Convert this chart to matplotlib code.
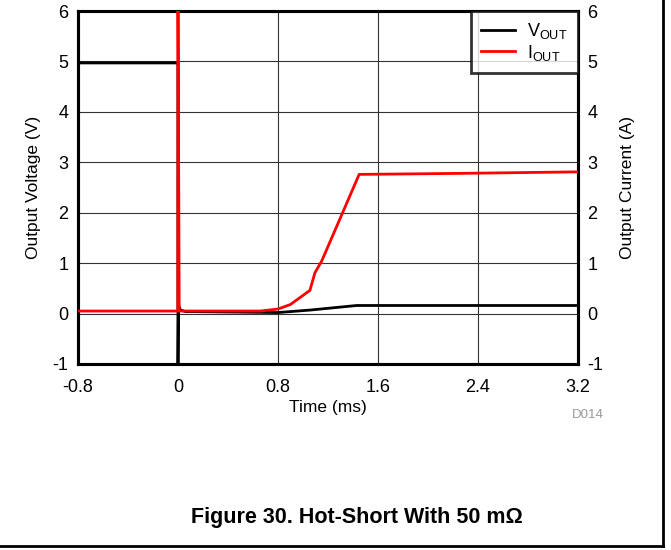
import numpy as np
import matplotlib.pyplot as plt
from matplotlib.lines import Line2D

plt.rcParams['font.family'] = ['Liberation Sans', 'DejaVu Sans']

# Scope capture, time in ms
t_vout = [-0.8, -0.001, 0.0, 0.0, 0.004, 0.02, 0.06, 0.8, 1.06, 1.43, 2.0, 3.2]
vout = [4.97, 4.97, 4.97, -1.2, 0.17, 0.07, 0.04, 0.02, 0.07, 0.16, 0.16, 0.16]

t_iout = [-0.8, -0.001, 0.0, 0.0, 0.01, 0.6, 0.66, 0.8, 0.9, 1.056, 1.096, 1.15, 1.45, 2.26, 3.2]
iout = [0.05, 0.05, 6.5, 6.5, 0.05, 0.05, 0.05, 0.09, 0.18, 0.46, 0.81, 1.04, 2.76, 2.78, 2.81]

xticks = [-0.8, 0, 0.8, 1.6, 2.4, 3.2]
xlabels = ['-0.8', '0', '0.8', '1.6', '2.4', '3.2']
yticks = [-1, 0, 1, 2, 3, 4, 5, 6]
ylabels = ['-1', '0', '1', '2', '3', '4', '5', '6']

fig = plt.figure(figsize=(6.71, 5.5), dpi=100)
ax = fig.add_axes([0.1162, 0.3382, 0.745, 0.6418])
ax2 = ax.twinx()

ax.plot(t_vout, vout, color='black', lw=2, zorder=3)
ax2.plot(t_iout, iout, color='red', lw=2, zorder=3)

for a in (ax, ax2):
    a.set_xlim(-0.8, 3.2)
    a.set_ylim(-1, 6)
    a.set_yticks(yticks)
    a.set_yticklabels(ylabels)
    a.tick_params(length=0, labelsize=13, pad=7)
    for s in a.spines.values():
        s.set_linewidth(2.2)

ax.set_xticks(xticks)
ax.set_xticklabels(xlabels)
ax.tick_params(axis='x', pad=11)
ax.grid(True, color='#333333', lw=0.8)
ax.set_axisbelow(True)
ax2.set_zorder(ax.get_zorder() + 1)
ax2.patch.set_visible(False)

ax.set_xlabel('Time (ms)', fontsize=12.5, labelpad=3)
ax.set_ylabel('Output Voltage (V)', fontsize=12.5, labelpad=8)
ax2.set_ylabel('Output Current (A)', fontsize=12.5, labelpad=12)

handles = [Line2D([], [], color='black', lw=2), Line2D([], [], color='red', lw=2)]
leg = ax2.legend(handles, [r'V$_\mathregular{OUT}$', r'I$_\mathregular{OUT}$'],
                 loc='upper right', fontsize=13, frameon=True, fancybox=False,
                 borderaxespad=0, handlelength=1.9, borderpad=0.55,
                 labelspacing=0.1, handletextpad=0.7)
leg.get_frame().set_edgecolor('black')
leg.get_frame().set_linewidth(2)

fig.text(0.876, 0.245, 'D014', color='#999999', fontsize=9.5, ha='center', va='center')
fig.text(0.532, 0.06, 'Figure 30. Hot-Short With 50 m\u03a9', fontsize=15.5,
         fontweight='bold', ha='center', va='center')

# page frame on the right and bottom
fig.add_artist(Line2D([0.988, 0.988], [0.0065, 1.0], color='black', lw=2,
                      transform=fig.transFigure))
fig.add_artist(Line2D([0.0, 0.988], [0.0065, 0.0065], color='black', lw=2,
                      transform=fig.transFigure))

fig.savefig('out.png', dpi=100)
